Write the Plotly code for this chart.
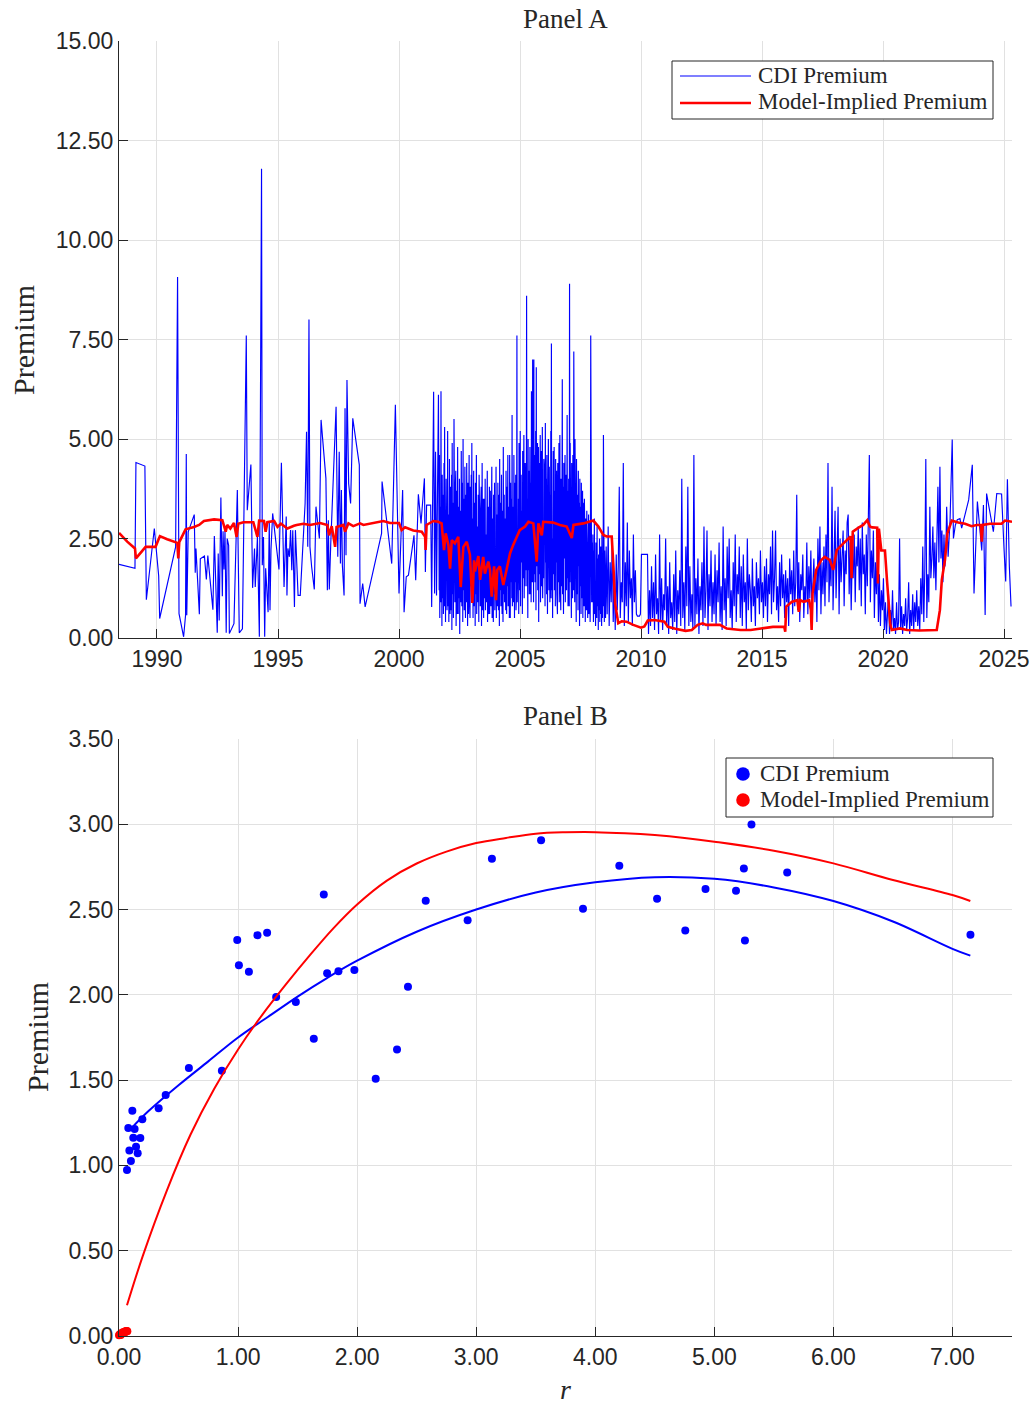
import plotly.graph_objects as go

# ---------------- Panel A data ----------------
# sparse early observations (decimal year, premium)
early_years = [1988.43, 1989.09, 1989.13, 1989.50, 1989.56, 1989.89, 1990.07, 1990.11, 1990.77, 1990.85,
               1990.91, 1991.10, 1991.18, 1991.21, 1991.23, 1991.29, 1991.54, 1991.58, 1991.61, 1991.75,
               1991.79, 1991.96, 1992.04, 1992.10, 1992.31, 1992.37, 1992.49, 1992.53, 1992.57, 1992.64,
               1992.70, 1992.73, 1992.77, 1992.81, 1992.86, 1992.90, 1992.96, 1992.99, 1993.18, 1993.32,
               1993.40, 1993.53, 1993.69, 1993.73, 1993.88, 1993.95, 1994.03, 1994.06, 1994.15, 1994.23,
               1994.32, 1994.35, 1994.40, 1994.45, 1994.49, 1994.59, 1994.64, 1994.67, 1994.71, 1994.78,
               1994.92, 1995.04, 1995.14, 1995.25, 1995.34, 1995.37, 1995.41, 1995.47, 1995.52, 1995.57,
               1995.61, 1995.68, 1995.72, 1995.83, 1995.92, 1996.05, 1996.12, 1996.18, 1996.23, 1996.28,
               1996.32, 1996.39, 1996.50, 1996.57, 1996.71, 1996.78, 1996.98, 1997.04, 1997.08, 1997.12,
               1997.18, 1997.40, 1997.47, 1997.53, 1997.58, 1997.62, 1997.66, 1997.73, 1997.77, 1997.81,
               1997.85, 1997.92, 1998.00, 1998.09, 1998.36, 1998.39, 1998.50, 1998.60, 1999.28, 1999.30,
               1999.70, 1999.85, 2000.00, 2000.15, 2000.21, 2000.30, 2000.39, 2000.62, 2000.69, 2000.80,
               2000.91, 2001.05, 2001.09, 2001.14, 2001.31, 2001.35, 2001.43, 2001.47, 2001.51, 2001.55,
               2001.63]
early_vals = [1.85, 1.75, 4.41, 4.32, 0.96, 2.75, 1.56, 0.49, 2.29, 9.07,
              0.61, 0.03, 0.57, 4.62, 0.57, 2.67, 3.10, 1.64, 2.25, 0.60,
              1.99, 2.06, 1.47, 2.07, 0.71, 2.56, 0.13, 2.12, 0.44, 3.53,
              1.05, 2.68, 1.72, 2.69, 0.13, 2.50, 2.33, 0.11, 0.36, 3.72,
              0.13, 0.23, 7.60, 3.21, 4.36, 1.26, 2.25, 1.28, 2.54, 0.03,
              11.79, 1.83, 2.54, 0.03, 1.75, 0.65, 2.94, 0.70, 2.21, 3.13,
              2.37, 1.72, 4.40, 1.28, 3.05, 1.07, 2.25, 2.04, 2.71, 1.70,
              2.71, 0.78, 2.71, 1.07, 1.07, 2.63, 3.38, 5.18, 2.29, 8.00,
              2.29, 1.79, 1.22, 3.30, 2.50, 5.48, 4.01, 1.20, 2.96, 1.22,
              2.37, 5.81, 2.04, 4.68, 1.87, 3.72, 1.83, 1.07, 5.77, 2.08,
              6.48, 3.88, 3.38, 5.52, 4.35, 0.86, 1.37, 0.78, 2.63, 3.93,
              1.87, 5.86, 1.12, 3.72, 0.65, 1.54, 1.58, 2.58, 1.45, 3.61,
              2.88, 4.01, 1.66, 3.34, 3.34, 0.78, 6.19, 1.12, 4.68, 1.07,
              6.11]

# dense period 1 (observations every 0.0125 year starting 2001.66)
dense1_start = 2001.66
dense1_step = 0.0125
dense1_vals = (
    [1.2, 4.6, 0.5, 2.4, 3.3, 0.9, 6.2, 1.4, 2.8, 0.3, 4.1, 1.7, 1.0, 3.6, 0.6, 2.2,
     4.4, 0.8, 5.3, 1.5, 3.0, 0.4, 2.6, 4.0, 1.1, 3.4, 0.7] +
    # 2002
    [1.5, 5.2, 0.8, 2.9, 3.1, 0.4, 1.8, 4.5, 1.9, 0.6, 3.8, 2.2, 0.7, 2.6, 4.1, 0.2,
     4.9, 1.1, 2.5, 3.4, 0.5, 1.6, 5.5, 1.2, 2.9, 0.9, 3.7, 1.4, 4.2, 0.3, 2.1, 3.7,
     1.3, 0.6, 4.8, 2.0, 0.6, 3.3, 2.4, 1.0, 4.0, 0.1, 2.7, 3.2, 1.7, 0.9, 4.7, 1.5,
     0.8, 2.7, 3.9, 0.4, 5.0, 1.2, 2.3, 3.5, 0.7, 1.9, 4.3, 1.1, 0.5, 3.6, 2.2, 0.9,
     4.4, 1.4, 2.8, 0.3, 3.9, 1.8, 0.6, 3.1, 4.6, 1.0, 2.4, 0.5, 3.8, 1.3, 2.0, 4.1] +
    # 2003
    [0.9, 4.9, 1.4, 2.2, 3.0, 0.5, 1.7, 4.2, 1.8, 0.8, 2.5, 3.4, 0.3, 3.9, 1.1, 2.0,
     4.6, 0.6, 1.5, 2.8, 1.5, 0.9, 3.6, 2.4, 0.4, 4.1, 1.2, 2.9, 2.3, 0.8, 3.2, 1.6,
     3.8, 0.3, 2.1, 4.4, 1.6, 0.7, 2.9, 3.5, 0.5, 1.4, 3.5, 2.2, 1.0, 4.0, 0.7, 1.9,
     2.6, 0.9, 3.7, 1.9, 4.2, 0.4, 2.5, 3.3, 1.3, 0.6, 2.1, 3.8, 0.6, 1.7, 3.7, 2.3,
     0.8, 3.1, 1.5, 4.3, 0.5, 2.4, 3.0, 1.2, 0.4, 3.6, 2.0, 1.1, 3.9, 0.7, 2.7, 1.6] +
    # 2004
    [1.0, 4.3, 0.5, 2.6, 3.1, 1.4, 0.8, 3.9, 2.1, 0.7, 2.8, 3.6, 0.3, 4.5, 1.2, 2.2,
     3.4, 0.8, 1.9, 4.1, 1.6, 0.6, 2.5, 3.2, 0.4, 4.8, 1.1, 2.7, 3.6, 0.9, 1.8, 3.0,
     1.5, 0.7, 4.2, 2.3, 0.6, 3.8, 1.3, 2.9, 4.6, 0.8, 2.0, 3.3, 1.9, 0.5, 4.6, 2.2,
     0.5, 3.9, 1.4, 2.6, 3.5, 1.0, 5.6, 0.8, 2.4, 3.3, 1.9, 0.9, 4.6, 1.6, 0.5, 3.9,
     2.3, 1.4, 4.1, 0.7, 2.8, 1.2, 7.6, 0.9, 4.3, 2.0, 1.7, 3.5, 0.6, 4.9, 1.5, 2.7] +
    # 2005
    [1.2, 5.2, 0.8, 3.6, 4.1, 1.9, 2.7, 3.2, 0.6, 4.7, 2.3, 1.5, 3.8, 5.1, 1.0, 2.9,
     4.4, 1.3, 3.1, 2.0, 4.4, 1.7, 8.6, 1.3, 3.5, 2.5, 0.5, 5.0, 1.7, 3.3, 4.2, 1.1,
     2.6, 4.8, 2.2, 1.1, 3.9, 0.9, 6.2, 2.0, 3.4, 1.4, 7.0, 2.2, 4.5, 0.9, 7.0, 1.6,
     3.7, 4.6, 1.4, 2.8, 5.2, 0.7, 6.8, 2.1, 3.6, 1.8, 4.9, 1.2, 3.2, 4.8, 0.4, 2.6,
     4.4, 1.6, 3.0, 5.1, 0.9, 3.6, 2.3, 4.7, 1.3, 2.8, 5.3, 1.0, 3.9, 2.4, 1.5, 4.5] +
    # 2006
    [1.5, 4.2, 2.6, 0.8, 5.4, 1.9, 3.3, 4.0, 1.1, 4.6, 2.4, 0.6, 3.9, 1.7, 5.0, 2.9,
     1.2, 4.3, 3.0, 0.9, 3.6, 2.0, 5.2, 1.0, 7.4, 1.2, 4.1, 2.5, 0.5, 3.4, 4.7, 1.6,
     2.8, 4.8, 1.2, 3.0, 3.7, 0.8, 4.5, 1.9, 2.6, 4.2, 1.1, 3.8, 0.6, 4.4, 2.2, 1.4,
     3.2, 4.9, 0.9, 2.7, 5.1, 1.5, 3.5, 0.7, 4.0, 2.1, 1.3, 3.3, 6.5, 1.1, 3.8, 2.4,
     0.6, 4.4, 1.4, 3.2, 2.0, 4.6, 0.9, 3.4, 1.8, 4.1, 1.2, 2.9, 5.6, 1.5, 3.7, 0.8] +
    # 2007
    [1.3, 4.0, 2.2, 0.8, 8.9, 1.4, 4.9, 2.7, 1.6, 3.5, 0.5, 4.4, 2.0, 3.2, 1.0, 4.6,
     2.5, 1.2, 7.2, 1.8, 3.8, 0.9, 5.0, 2.3, 1.5, 3.1, 0.4, 4.5, 2.1, 1.1, 3.6, 2.6,
     0.7, 4.2, 1.8, 2.9, 3.4, 0.3, 4.0, 1.3, 2.4, 3.3, 0.6, 3.9, 1.9, 1.0, 2.6, 3.7,
     0.5, 3.4, 1.2, 2.8, 0.8, 3.5, 1.6, 2.3, 0.4, 3.0, 1.4, 2.5, 0.7, 3.2, 1.1, 2.0,
     0.5, 2.7, 1.3, 3.1, 0.6, 2.2, 1.0, 2.9, 0.4, 1.8, 7.6, 1.4, 3.0, 0.9, 2.4, 1.2] +
    # 2008 (to mid-year)
    [0.9, 2.6, 1.5, 0.4, 2.2, 1.1, 3.0, 0.6, 1.9, 1.2, 0.3, 2.4, 1.0, 1.6, 0.5, 2.8,
     0.8, 1.4, 2.0, 0.2, 2.1, 1.3, 0.7, 2.5, 0.4, 1.7, 1.1, 2.3, 0.6, 1.5, 0.3, 2.6,
     1.2, 0.5, 1.9, 0.8, 5.1, 0.7, 1.8, 0.4, 2.2, 0.9, 1.4, 0.5]
)

# dense period 2 (observations every 1/24 year starting 2008.56)
dense2_start = 2008.56
dense2_step = 1.0 / 24.0
dense2_vals = (
    [2.3, 0.6, 2.8, 0.3, 1.9, 0.9, 2.5, 0.4, 1.6, 0.2, 2.1] +
    [0.7, 1.8, 3.8, 0.5, 1.4, 0.9, 4.4, 0.3, 1.9, 0.8, 2.9, 0.4, 2.2, 1.0, 1.5, 0.3, 2.6, 0.9, 1.7, 0.6, 0.55, 0.55, 0.55, 0.6] +
    [2.1, 2.1, 2.1, 2.1, 2.1, 2.1, 2.1, 0.1, 1.2, 0.3, 1.8, 0.5, 1.4, 0.2, 2.1, 0.6, 1.0, 0.1, 2.6, 0.4, 1.5, 0.2, 1.1, 0.7] +
    [2.5, 0.3, 1.3, 0.1, 1.9, 0.5, 0.9, 0.2, 1.6, 0.4, 2.2, 0.1, 1.2, 0.6, 1.7, 0.3, 4.0, 0.5, 1.4, 0.2, 2.3, 0.8, 3.8, 0.3] +
    [1.8, 0.4, 1.1, 0.2, 4.6, 0.3, 1.5, 0.6, 2.0, 0.1, 1.3, 0.7, 1.9, 0.3, 2.8, 0.5, 1.2, 2.7, 0.2, 1.6, 0.8, 2.2, 0.4, 1.4] +
    [0.6, 2.1, 0.3, 1.7, 0.9, 2.4, 0.4, 1.3, 0.2, 2.8, 0.7, 1.5, 0.3, 2.3, 1.0, 2.5, 0.5, 1.2, 0.2, 1.9, 0.8, 2.6, 0.4, 1.6] +
    [1.1, 2.3, 0.5, 1.8, 0.3, 2.1, 0.9, 1.4, 0.2, 2.5, 0.7, 1.6, 1.2, 0.4, 2.0, 0.8, 1.3, 0.3, 1.9, 1.0, 1.5, 0.6, 2.2, 0.9] +
    [1.4, 0.5, 1.8, 0.8, 2.0, 0.4, 1.6, 1.1, 2.3, 0.6, 2.7, 0.9, 1.5, 2.7, 0.7, 1.3, 0.4, 1.9, 0.8, 2.1, 1.0, 1.6, 0.5, 1.7] +
    [0.9, 1.5, 0.3, 2.0, 1.1, 1.7, 0.6, 2.2, 0.8, 1.4, 3.6, 0.7, 1.9, 0.4, 1.6, 1.2, 2.1, 0.5, 1.3, 0.9, 2.4, 0.6, 1.8, 1.0] +
    [2.2, 0.7, 1.5, 2.0, 0.9, 1.7, 0.4, 2.5, 1.2, 2.8, 0.6, 1.9, 1.1, 2.3, 0.8, 2.6, 1.4, 4.4, 0.9, 2.0, 1.3, 3.8, 0.7, 2.4] +
    [3.2, 1.0, 2.1, 3.3, 0.6, 2.5, 1.4, 1.9, 2.7, 0.8, 2.2, 1.6, 2.9, 3.1, 1.1, 2.4, 0.7, 2.0, 1.5, 2.6, 0.9, 2.3, 1.8, 2.8] +
    [1.2, 2.5, 0.8, 2.9, 1.6, 2.1, 0.6, 2.6, 1.3, 3.0, 4.6, 0.9, 2.2, 1.5, 2.7, 0.5, 1.9, 1.1, 2.4, 0.4, 1.6, 0.3, 1.2, 0.7] +
    [1.5, 0.2, 0.9, 0.1, 0.6, 1.1, 0.1, 0.7, 0.3, 1.2, 0.2, 0.5, 0.1, 0.9, 0.2, 0.4, 2.5, 0.2, 0.8, 0.1, 0.6, 0.3, 1.0, 0.2] +
    [0.5, 1.4, 0.1, 0.7, 0.3, 1.1, 0.2, 0.9, 0.4, 1.2, 0.3, 0.8, 0.2, 1.5, 0.6, 2.3, 0.4, 1.7, 4.5, 0.5, 1.6, 0.9, 3.3, 1.5] +
    [2.0, 2.8, 1.5, 2.4, 1.2, 2.8, 3.8, 1.9, 4.3, 2.0, 2.7, 1.4, 2.6, 1.8, 2.3]
)

# sparse recent observations
tail_years = [2022.63, 2022.69, 2022.77, 2022.86, 2022.91, 2022.99, 2023.07, 2023.18, 2023.25, 2023.36,
              2023.54, 2023.69, 2023.76, 2023.90, 2023.95, 2024.08, 2024.15, 2024.22, 2024.28, 2024.56,
              2024.70, 2024.90, 2025.00, 2025.07, 2025.14, 2025.22, 2025.29]
tail_vals = [3.30, 2.04, 2.96, 4.99, 2.50, 2.84, 2.97, 3.00, 2.76, 3.05,
             3.47, 4.35, 1.12, 3.43, 3.09, 2.20, 3.34, 0.58, 3.63, 2.67,
             3.63, 3.62, 2.25, 1.42, 3.99, 1.80, 0.79]

# model-implied premium (decimal year, premium)
model_years = [1988.43, 1988.77, 1989.09, 1989.13, 1989.53, 1989.94, 1990.12, 1990.42, 1990.84, 1990.88,
               1990.92, 1991.18, 1991.53, 1991.74, 1991.94, 1992.36, 1992.70, 1992.80, 1992.84, 1992.90,
               1993.03, 1993.18, 1993.29, 1993.36, 1993.57, 1993.98, 1994.15, 1994.22, 1994.42, 1994.49,
               1994.56, 1994.84, 1994.98, 1995.12, 1995.39, 1995.66, 1995.77, 1996.05, 1996.32, 1996.74,
               1997.04, 1997.11, 1997.22, 1997.36, 1997.42, 1997.70, 1997.77, 1997.91, 1998.11, 1998.39,
               1998.53, 1999.35, 1999.63, 2000.00, 2000.11, 2000.25, 2000.59, 2000.94, 2001.08, 2001.10,
               2001.14, 2001.42, 2001.62, 2001.76, 2001.86, 2001.93, 2002.04, 2002.11, 2002.18, 2002.31,
               2002.45, 2002.55, 2002.66, 2002.80, 2002.93, 2003.03, 2003.10, 2003.14, 2003.28, 2003.35,
               2003.48, 2003.55, 2003.69, 2003.76, 2003.83, 2003.93, 2004.01, 2004.06, 2004.17, 2004.31,
               2004.45, 2004.59, 2004.72, 2004.86, 2004.99, 2005.21, 2005.35, 2005.55, 2005.69, 2005.76,
               2005.90, 2005.96, 2006.37, 2006.65, 2006.93, 2007.14, 2007.21, 2007.62, 2008.03, 2008.24,
               2008.44, 2008.58, 2008.79, 2008.86, 2008.93, 2009.06, 2009.20, 2009.40, 2009.68, 2010.00,
               2010.14, 2010.28, 2010.55, 2010.97, 2011.11, 2011.42, 2011.84, 2012.10, 2012.34, 2012.55,
               2012.69, 2013.26, 2013.54, 2014.11, 2014.53, 2014.96, 2015.45, 2015.92, 2015.96, 2016.00,
               2016.24, 2016.46, 2016.52, 2016.58, 2016.72, 2016.95, 2017.02, 2017.05, 2017.09, 2017.24,
               2017.45, 2017.59, 2017.80, 2017.94, 2018.09, 2018.30, 2018.52, 2018.66, 2018.70, 2018.75,
               2018.96, 2019.18, 2019.35, 2019.46, 2019.55, 2019.76, 2019.79, 2019.83, 2019.93, 2020.08,
               2020.17, 2020.30, 2020.36, 2020.70, 2021.00, 2021.50, 2022.22, 2022.35, 2022.43, 2022.56,
               2022.66, 2022.84, 2023.11, 2023.39, 2023.66, 2023.87, 2024.04, 2024.08, 2024.12, 2024.42,
               2024.70, 2024.90, 2025.04, 2025.33]
model_vals = [2.64, 2.42, 2.25, 2.00, 2.29, 2.29, 2.56, 2.48, 2.39, 2.00,
              2.41, 2.73, 2.79, 2.84, 2.94, 2.98, 2.96, 2.70, 2.67, 2.84,
              2.75, 2.89, 2.54, 2.87, 2.91, 2.91, 2.54, 2.95, 2.94, 2.67,
              2.91, 2.94, 2.79, 2.87, 2.75, 2.82, 2.84, 2.87, 2.84, 2.89,
              2.84, 2.58, 2.81, 2.29, 2.79, 2.84, 2.67, 2.88, 2.81, 2.88,
              2.84, 2.94, 2.89, 2.89, 2.71, 2.78, 2.70, 2.67, 2.54, 2.21,
              2.84, 2.94, 2.92, 2.88, 2.21, 2.63, 2.34, 1.74, 2.46, 2.38,
              2.54, 1.28, 2.29, 2.42, 2.09, 0.88, 1.95, 1.67, 2.06, 1.46,
              2.04, 1.62, 1.92, 1.71, 1.04, 1.80, 0.95, 1.71, 1.80, 1.33,
              1.71, 2.13, 2.34, 2.55, 2.71, 2.80, 2.92, 2.88, 1.92, 2.88,
              2.58, 2.92, 2.90, 2.84, 2.80, 2.51, 2.84, 2.88, 2.95, 2.80,
              2.59, 2.55, 2.55, 1.80, 0.87, 0.37, 0.42, 0.41, 0.33, 0.26,
              0.29, 0.44, 0.45, 0.41, 0.28, 0.23, 0.18, 0.20, 0.33, 0.37,
              0.33, 0.33, 0.24, 0.20, 0.20, 0.24, 0.28, 0.28, 0.16, 0.79,
              0.91, 0.95, 0.66, 0.95, 0.91, 0.95, 0.70, 0.20, 1.12, 1.71,
              1.96, 2.04, 1.96, 1.71, 2.21, 2.34, 2.46, 2.55, 1.50, 2.67,
              2.76, 2.84, 2.96, 2.80, 2.78, 2.77, 1.37, 2.75, 2.20, 2.20,
              1.40, 0.35, 0.20, 0.24, 0.20, 0.19, 0.20, 0.70, 1.46, 1.96,
              2.63, 2.95, 2.90, 2.87, 2.81, 2.84, 2.84, 2.42, 2.84, 2.87,
              2.87, 2.87, 2.95, 2.92]

year_ticks = [1990, 1995, 2000, 2005, 2010, 2015, 2020, 2025]
premA_ticks = [0, 2.5, 5, 7.5, 10, 12.5, 15]

# ---------------- Panel B data ----------------
cdi_r = [0.067, 0.10, 0.087, 0.078, 0.112, 0.131, 0.12, 0.143, 0.157, 0.179, 0.196, 0.333, 0.392, 0.587,
         0.864, 2.156, 2.335, 0.993, 1.007, 1.091, 1.163, 1.244, 1.32, 1.485, 1.636, 1.72, 1.748, 1.843,
         1.977, 2.427, 2.576, 2.928, 3.132, 3.545, 3.897, 4.202, 4.519, 4.756, 4.926, 5.182, 5.248,
         5.257, 5.312, 5.612, 7.151]
cdi_prem = [0.973, 1.026, 1.088, 1.219, 1.321, 1.213, 1.162, 1.11, 1.071, 1.161, 1.27, 1.335, 1.413, 1.571,
            1.555, 1.508, 1.68, 2.321, 2.173, 2.136, 2.35, 2.364, 1.987, 1.958, 1.743, 2.589, 2.126, 2.138,
            2.145, 2.048, 2.552, 2.437, 2.798, 2.906, 2.505, 2.757, 2.563, 2.378, 2.62, 2.61, 2.741,
            2.319, 2.999, 2.718, 2.352]
model_r = [0.0, 0.005, 0.01, 0.02, 0.03, 0.04, 0.05, 0.06, 0.065, 0.07, 0.015, 0.045]
model_prem = [0.004, 0.008, 0.012, 0.016, 0.02, 0.024, 0.027, 0.03, 0.03, 0.028, 0.006, 0.018]

fit_cdi_r = [0.107, 0.25, 0.5, 0.75, 1.0, 1.25, 1.5, 1.75, 2.0, 2.5, 3.0, 3.5, 4.0, 4.5, 5.0,
             5.5, 6.0, 6.5, 7.0, 7.15]
fit_cdi_prem = [1.22, 1.32, 1.47, 1.61, 1.75, 1.87, 1.99, 2.10, 2.20, 2.37, 2.50, 2.60, 2.66, 2.69, 2.68,
                2.63, 2.55, 2.43, 2.27, 2.23]
fit_model_r = [0.067, 0.2, 0.4, 0.6, 0.8, 1.0, 1.2, 1.4, 1.6, 1.8, 2.0, 2.25, 2.5, 2.75, 3.0, 3.25,
               3.5, 3.75, 4.0, 4.25, 4.5, 4.75, 5.0, 5.5, 6.0, 6.5, 7.0, 7.15]
fit_model_prem = [0.18, 0.47, 0.85, 1.18, 1.45, 1.68, 1.88, 2.06, 2.23, 2.39, 2.53, 2.67, 2.77, 2.84, 2.89,
                  2.92, 2.945, 2.953, 2.954, 2.948, 2.937, 2.92, 2.898, 2.845, 2.771, 2.673, 2.585, 2.55]

r_ticks = [0, 1, 2, 3, 4, 5, 6, 7]
premB_ticks = [0, 0.5, 1.0, 1.5, 2.0, 2.5, 3.0, 3.5]

series_names = ["CDI Premium", "Model-Implied Premium"]

# ---------------- build series ----------------
dense1_years = [dense1_start + i * dense1_step for i in range(len(dense1_vals))]
dense2_years = [dense2_start + i * dense2_step for i in range(len(dense2_vals))]
cdi_years = early_years + dense1_years + dense2_years + tail_years
cdi_vals = early_vals + dense1_vals + dense2_vals + tail_vals

W, H = 1036, 1404
def fx(px):
    return px / W
def fy(py):
    return 1 - py / H

BLUE = "rgb(0,0,255)"
RED = "rgb(255,0,0)"
AX = "rgb(38,38,38)"
GRID = "rgb(225,225,225)"
SERIF = "Liberation Serif"
SANS = "Liberation Sans"

fig = go.Figure()
fig.add_trace(go.Scatter(x=cdi_years, y=cdi_vals, mode="lines", name=series_names[0],
                         line=dict(color=BLUE, width=1.15), xaxis="x", yaxis="y", showlegend=False))
fig.add_trace(go.Scatter(x=model_years, y=model_vals, mode="lines", name=series_names[1],
                         line=dict(color=RED, width=2.6), xaxis="x", yaxis="y", showlegend=False))

fig.add_trace(go.Scatter(x=cdi_r, y=cdi_prem, mode="markers", name=series_names[0],
                         marker=dict(color=BLUE, size=8), xaxis="x2", yaxis="y2", showlegend=False))
fig.add_trace(go.Scatter(x=model_r, y=model_prem, mode="markers", name=series_names[1],
                         marker=dict(color=RED, size=8), cliponaxis=False,
                         xaxis="x2", yaxis="y2", showlegend=False))
fig.add_trace(go.Scatter(x=fit_cdi_r, y=fit_cdi_prem, mode="lines", line=dict(color=BLUE, width=2, shape="spline"),
                         showlegend=False, xaxis="x2", yaxis="y2"))
fig.add_trace(go.Scatter(x=fit_model_r, y=fit_model_prem, mode="lines", line=dict(color=RED, width=2, shape="spline"),
                         showlegend=False, xaxis="x2", yaxis="y2"))

axis_common = dict(showgrid=True, gridcolor=GRID, gridwidth=1, zeroline=False,
                   showline=True, linecolor=AX, linewidth=1.3, ticks="inside", ticklen=9,
                   tickcolor=AX, tickwidth=1.3, tickfont=dict(family=SANS, size=23, color=AX),
                   mirror=False, fixedrange=True, automargin=False, ticklabeloverflow="allow")

dom_x = [fx(119), fx(1012)]
fig.update_layout(
    width=W, height=H, margin=dict(l=0, r=0, t=0, b=0, pad=0, autoexpand=False),
    paper_bgcolor="white", plot_bgcolor="white", showlegend=False,
    xaxis=dict(domain=dom_x, range=[1988.43, 2025.33], tickvals=year_ticks,
               ticktext=[str(y) for y in year_ticks], anchor="y", **axis_common),
    yaxis=dict(domain=[fy(638), fy(41)], range=[0, 15], tickvals=premA_ticks,
               ticktext=[f"{v:.2f}" for v in premA_ticks], anchor="x", **axis_common),
    xaxis2=dict(domain=dom_x, range=[0, 7.5], tickvals=r_ticks,
                ticktext=[f"{v:.2f}" for v in r_ticks], anchor="y2", **axis_common),
    yaxis2=dict(domain=[fy(1336), fy(739)], range=[0, 3.5], tickvals=premB_ticks,
                ticktext=[f"{v:.2f}" for v in premB_ticks], anchor="x2", **axis_common),
)

ann_font = dict(family=SERIF, color=AX)
def label(px, py, text, size, angle=0, xanchor="center"):
    fig.add_annotation(x=fx(px), y=fy(py), xref="paper", yref="paper", text=text, showarrow=False,
                       textangle=angle, font=dict(size=size, **ann_font), xanchor=xanchor,
                       yanchor="middle", borderpad=0)

label(565.5, 19, "Panel A", 27)
label(565.5, 716, "Panel B", 27)
label(23, 340, "Premium", 30, angle=-90)
label(37, 1037, "Premium", 30, angle=-90)
label(565, 1389, "<i>r</i>", 28)

# ---- legend boxes (Panel A: lines, Panel B: markers) ----
def box(x0, y0, x1, y1):
    fig.add_shape(type="rect", xref="paper", yref="paper", x0=fx(x0), x1=fx(x1), y0=fy(y1), y1=fy(y0),
                  line=dict(color=AX, width=1), fillcolor="white", layer="above")

box(672, 61, 993, 119)
fig.add_shape(type="line", xref="paper", yref="paper", x0=fx(680), x1=fx(751), y0=fy(76), y1=fy(76),
              line=dict(color=BLUE, width=1.2), layer="above")
fig.add_shape(type="line", xref="paper", yref="paper", x0=fx(680), x1=fx(751), y0=fy(103), y1=fy(103),
              line=dict(color=RED, width=2.6), layer="above")
label(757, 75, series_names[0], 23, xanchor="left")
label(757, 102, series_names[1], 23, xanchor="left")

box(726, 758, 993, 817)
for cy, col in ((774, BLUE), (800, RED)):
    fig.add_shape(type="circle", xref="paper", yref="paper", x0=fx(743 - 6.8), x1=fx(743 + 6.8),
                  y0=fy(cy + 6.8), y1=fy(cy - 6.8), line=dict(color=col, width=0), fillcolor=col,
                  layer="above")
label(759, 773, series_names[0], 23, xanchor="left")
label(759, 799, series_names[1], 23, xanchor="left")

# remove the browser's default 8px page margin so the 1036x1404 figure fills the window
fig.write_html("out.html", config={"displayModeBar": False},
               post_script="document.body.style.margin='0px';document.body.style.overflow='hidden';")
